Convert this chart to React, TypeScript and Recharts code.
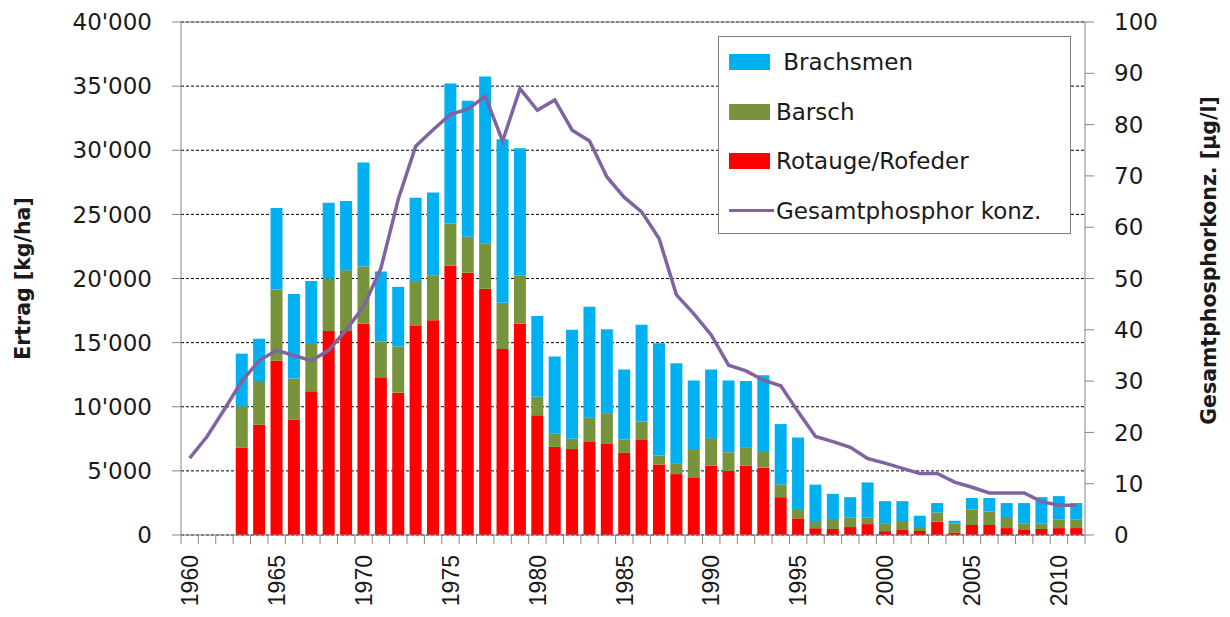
import React from "react"
import {
  Bar,
  CartesianGrid,
  ComposedChart,
  Line,
  ReferenceLine,
  XAxis,
  YAxis,
} from "recharts"

const years = Array.from({ length: 52 }, (_, i) => String(1960 + i))

// kg/ha, 1960..2011 (no catches recorded before 1963)
const rotauge = [
  null, null, null, 6800, 8600, 13600, 9000, 11200, 15900, 15900,
  16500, 12300, 11100, 16300, 16750, 21000, 20450, 19200, 14500, 16500,
  9330, 6870, 6700, 7250, 7100, 6400, 7400, 5500, 4750, 4500,
  5400, 5000, 5400, 5250, 2950, 1300, 530, 470, 620, 850,
  300, 390, 310, 1040, 200, 780, 780, 540, 390, 470,
  540, 540,
]
const barsch = [
  null, null, null, 3240, 3400, 5550, 3200, 3700, 4100, 4750,
  4450, 2800, 3600, 3500, 3500, 3300, 2800, 3500, 3600, 3750,
  1450, 1050, 800, 1900, 2400, 1050, 1450, 700, 850, 2200,
  2150, 1450, 1450, 1300, 1000, 650, 480, 780, 730, 500,
  570, 700, 310, 720, 680, 1220, 1060, 860, 520, 410,
  650, 650,
]
const brachsmen = [
  null, null, null, 4100, 3300, 6350, 6600, 4900, 5900, 5400,
  8100, 5450, 4650, 6500, 6450, 10900, 10600, 13050, 12750, 9900,
  6300, 6000, 8500, 8650, 6550, 5450, 7550, 8750, 7800, 5350,
  5350, 5600, 5150, 5900, 4700, 5650, 2920, 1960, 1600, 2750,
  1770, 1550, 880, 730, 230, 880, 1040, 1090, 1580, 2070,
  1840, 1300,
]
// µg/l
const phosphor = [
  15.0, 19.2, 24.5, 30.0, 34.0, 36.0, 35.0, 34.0, 36.0, 40.0,
  44.5, 52.0, 65.5, 75.8, 79.0, 82.0, 83.0, 85.5, 76.8, 87.0,
  82.8, 84.8, 78.9, 76.8, 69.8, 65.8, 63.0, 57.8, 46.8, 43.1,
  39.0, 33.1, 32.0, 30.2, 29.1, 24.0, 19.2, 18.2, 17.1, 14.9,
  14.0, 13.0, 12.0, 12.0, 10.3, 9.3, 8.2, 8.2, 8.2, 6.5,
  5.8, 5.8,
]

const leftTicks = [0, 5000, 10000, 15000, 20000, 25000, 30000, 35000, 40000]
const rightTicks = [0, 10, 20, 30, 40, 50, 60, 70, 80, 90, 100]

const data = years.map((year, i) => ({
  year,
  rotauge: rotauge[i],
  barsch: barsch[i],
  brachsmen: brachsmen[i],
  phosphor: phosphor[i],
}))

const BLUE = "#00B0F0"
const GREEN = "#77933C"
const RED = "#FF0000"
const PURPLE = "#8064A2"
const AXIS = "#868686"
const TEXT = "#1a1a1a"
const FONT = "DejaVu Sans, Verdana, sans-serif"

const W = 1214
const H = 609
const PLOT_LEFT = 173
const PLOT_RIGHT = 1077
const STEP = (PLOT_RIGHT - PLOT_LEFT) / years.length

const fmt = (v: number) => String(v).replace(/\B(?=(\d{3})+(?!\d))/g, "'")

function YearTick(props: any) {
  const { x, y, payload, index } = props
  const half = STEP / 2
  const year = Number(payload.value)
  return (
    <g>
      <line x1={x - half} x2={x - half} y1={y} y2={y + 9} stroke={AXIS} />
      {index === years.length - 1 && (
        <line x1={x + half} x2={x + half} y1={y} y2={y + 9} stroke={AXIS} />
      )}
      {year % 5 === 0 && (
        <text
          x={x}
          y={y + 20}
          transform={`rotate(-90 ${x} ${y + 20})`}
          textAnchor="end"
          dy="0.36em"
          fontFamily="Liberation Sans, Arial, sans-serif"
          fontSize={23}
          fill={TEXT}
        >
          {payload.value}
        </text>
      )}
    </g>
  )
}

function AxisTitle({ cx, cy, text }: { cx: number; cy: number; text: string }) {
  return (
    <text
      x={cx}
      y={cy}
      transform={`rotate(-90 ${cx} ${cy})`}
      textAnchor="middle"
      dy="0.36em"
      style={{ fontFamily: FONT, fontWeight: "bold", fontSize: 20.5, fill: TEXT }}
    >
      {text}
    </text>
  )
}

function LeftTitle(props: any) {
  const vb = props.viewBox
  return <AxisTitle cx={vb.x + 15} cy={vb.y + vb.height / 2} text="Ertrag [kg/ha]" />
}

function RightTitle(props: any) {
  const vb = props.viewBox
  return <AxisTitle cx={vb.x + 124} cy={vb.y + vb.height / 2 - 18} text="Gesamtphosphorkonz. [µg/l]" />
}

const legendItems = [
  { label: " Brachsmen", color: BLUE, kind: "box" },
  { label: "Barsch", color: GREEN, kind: "box" },
  { label: "Rotauge/Rofeder", color: RED, kind: "box" },
  { label: "Gesamtphosphor konz.", color: PURPLE, kind: "line" },
]

function ChartLegend() {
  return (
    <div
      style={{
        position: "absolute",
        left: 710,
        top: 28,
        width: 351,
        height: 196,
        border: "1.5px solid #7f7f7f",
        background: "#fff",
        fontFamily: FONT,
        fontSize: 23,
        color: TEXT,
      }}
    >
      {legendItems.map((item, i) => (
        <div
          key={item.label}
          style={{
            position: "absolute",
            left: 10,
            top: 11 + i * 49.5,
            height: 28,
            display: "flex",
            alignItems: "center",
            whiteSpace: "pre",
          }}
        >
          {item.kind === "box" ? (
            <span style={{ display: "inline-block", width: 41, height: 16, background: item.color }} />
          ) : (
            <span style={{ display: "inline-block", width: 45, height: 3.5, background: item.color, marginRight: -4 }} />
          )}
          <span style={{ marginLeft: 6 }}>{item.label}</span>
        </div>
      ))}
    </div>
  )
}

export default function App() {
  return (
    <div style={{ position: "relative", width: W, height: H }}>
      <ComposedChart
        width={W}
        height={H}
        data={data}
        margin={{ top: 14, right: 0, bottom: 0, left: 0 }}
        barCategoryGap="15%"
      >
        <CartesianGrid
          yAxisId="left"
          vertical={false}
          stroke="#000"
          strokeDasharray="3 2"
        />
        <XAxis
          dataKey="year"
          interval={0}
          height={82}
          tick={<YearTick />}
          tickLine={false}
          tickSize={0}
          tickMargin={0}
          axisLine={{ stroke: AXIS }}
        />
        <YAxis
          yAxisId="left"
          width={PLOT_LEFT}
          domain={[0, 40000]}
          ticks={leftTicks}
          tickFormatter={fmt}
          tickSize={9}
          tickMargin={20}
          tick={{ fontFamily: FONT, fontSize: 23, fill: TEXT }}
          tickLine={{ stroke: AXIS }}
          axisLine={{ stroke: AXIS }}
          label={LeftTitle}
        />
        <YAxis
          yAxisId="right"
          orientation="right"
          width={W - PLOT_RIGHT}
          domain={[0, 100]}
          ticks={rightTicks}
          tickSize={9}
          tickMargin={20}
          tick={{ fontFamily: FONT, fontSize: 23, fill: TEXT, textAnchor: "start" }}
          tickLine={{ stroke: AXIS }}
          axisLine={{ stroke: AXIS }}
          label={RightTitle}
        />
        <ReferenceLine yAxisId="left" y={40000} stroke={AXIS} />
        <Bar yAxisId="left" dataKey="rotauge" stackId="a" fill={RED} isAnimationActive={false} />
        <Bar yAxisId="left" dataKey="barsch" stackId="a" fill={GREEN} isAnimationActive={false} />
        <Bar yAxisId="left" dataKey="brachsmen" stackId="a" fill={BLUE} isAnimationActive={false} />
        <Line
          yAxisId="right"
          dataKey="phosphor"
          type="linear"
          stroke={PURPLE}
          strokeWidth={3.5}
          dot={false}
          activeDot={false}
          isAnimationActive={false}
        />
      </ComposedChart>
      <ChartLegend />
    </div>
  )
}
